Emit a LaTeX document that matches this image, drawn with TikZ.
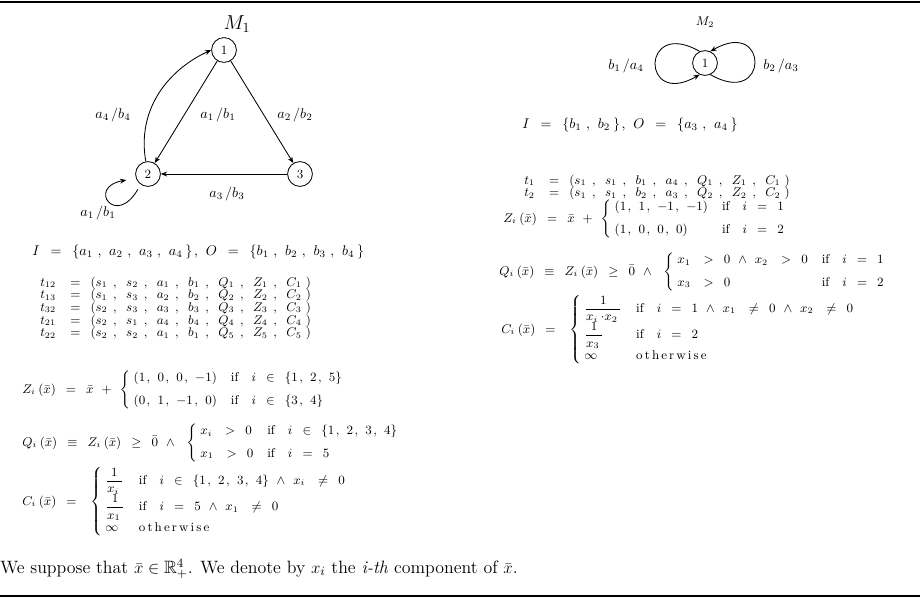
\documentclass[tikz,border=0pt]{standalone}
\usepackage{amsmath,amssymb}
\usetikzlibrary{arrows.meta,positioning}
\newcommand{\cma}{\mkern2mu,\mkern5mu}
\newcommand{\iif}{\text{if}\ \ \ }
\newcommand{\eqspacing}{\scriptspace=2.5pt\relax\thinmuskip=5mu\relax\medmuskip=11mu\relax\thickmuskip=14mu\relax}
\newcommand{\tupfont}{\small\eqspacing\thinmuskip=8mu\relax\scriptspace=3.5pt\relax}
\newcommand{\lblfont}{\normalsize\scriptspace=2pt\relax}
\tikzset{
  state/.style={draw,circle,semithick,minimum size=0.62cm,inner sep=0pt,font=\small},
  trans/.style={-{Stealth[length=4.5pt,width=3.5pt]},semithick},
  elabel/.style={font=\lblfont,inner sep=1pt},
  eqn/.style={anchor=west,inner sep=0pt,font=\small\eqspacing},
  eqtup/.style={eqn,anchor=north west,font=\tupfont},
  eqbig/.style={eqn,font=\normalsize\eqspacing}
}
\begin{document}
\begin{tikzpicture}[x=0.025cm,y=0.025cm]
  \useasboundingbox (0,0) rectangle (920,612);
  \draw[line width=1.2pt] (0,610) -- (920,610);
  \draw[line width=0.8pt] (0,16) -- (920,16);

  % machine M1
  \node[font=\Large] (m1) at (237,588) {$M_1$};
  \node[state] (s1) at (224,562) {1};
  \node[state] (s2) at (148,438) {2};
  \node[state] (s3) at (300,438) {3};
  \draw[trans] (s1) -- (s2);
  \draw[trans] (s1) -- (s3);
  \draw[trans] (s3) -- (s2);
  \draw[trans] (s2.100) to[out=100,in=205] (s1.west);
  \draw[trans,shorten <=4pt,shorten >=7pt] (s2.235) .. controls +(240:50) and +(190:50) .. (s2.200);
  \node[elabel] (l21) at (114,497) {$a_4/b_4$};
  \node[elabel] (l12) at (219,497) {$a_1/b_1$};
  \node[elabel] (l13) at (296,497) {$a_2/b_2$};
  \node[elabel] (l32) at (228,418) {$a_3/b_3$};
  \node[elabel] (l22) at (99,399) {$a_1/b_1$};

  % machine M1 equations
  \node[eqbig] (io1) at (32,360) {$I = \{a_1\cma a_2\cma a_3\cma a_4\}\cma O = \{b_1\cma b_2\cma b_3\cma b_4\}$};
  \node[eqtup] (tr1) at (40,337) {$\begin{array}{@{}l@{}}
    t_{12} = (s_1\cma s_2\cma a_1\cma b_1\cma Q_1\cma Z_1\cma C_1)\\[-2pt]
    t_{13} = (s_1\cma s_3\cma a_2\cma b_2\cma Q_2\cma Z_2\cma C_2)\\[-2pt]
    t_{32} = (s_2\cma s_3\cma a_3\cma b_3\cma Q_3\cma Z_3\cma C_3)\\[-2pt]
    t_{21} = (s_2\cma s_1\cma a_4\cma b_4\cma Q_4\cma Z_4\cma C_4)\\[-2pt]
    t_{22} = (s_2\cma s_2\cma a_1\cma b_1\cma Q_5\cma Z_5\cma C_5)
  \end{array}$};
  \node[eqn] (z1) at (22,222) {$Z_i(\bar{x}) = \bar{x} + \left\{\begin{array}{@{\,}ll}
    (1\cma 0\cma 0\cma -1) & \iif i \in \{1\cma 2\cma 5\}\\[5pt]
    (0\cma 1\cma -1\cma 0) & \iif i \in \{3\cma 4\}
  \end{array}\right.$};
  \node[eqn] (q1) at (22,169) {$Q_i(\bar{x}) \equiv Z_i(\bar{x}) \geq \bar{0} \mathbin{\wedge}\, \left\{\begin{array}{@{\,}ll}
    x_i > 0 & \iif i \in \{1\cma 2\cma 3\cma 4\}\\[5pt]
    x_1 > 0 & \iif i = 5
  \end{array}\right.$};
  \node[eqn] (c1) at (22,110) {$C_i(\bar{x}) = \,\left\{\begin{array}{@{\,}ll}
    \dfrac{1}{x_i} & \iif i \in \{1\cma 2\cma 3\cma 4\} \wedge x_i \neq 0\\
    \dfrac{1}{x_1} & \iif i = 5 \wedge x_1 \neq 0\\
    \infty & \text{o\,t\,h\,e\,r\,w\,i\,s\,e}
  \end{array}\right.$};

  % machine M2
  \node[font=\small] (m2) at (705,590) {$M_2$};
  \node[state] (u1) at (705,549) {1};
  \draw[trans] (u1.115) to[out=150,in=210,looseness=7.5] (u1.245);
  \draw[trans] (u1.295) to[out=-30,in=30,looseness=7.5] (u1.65);
  \node[elabel] (k1) at (627,546) {$b_1/a_4$};
  \node[elabel] (k2) at (782,546) {$b_2/a_3$};

  % machine M2 equations
  \node[eqbig] (io2) at (522,487) {$I = \{b_1\cma b_2\}\cma O = \{a_3\cma a_4\}$};
  \node[eqtup] (tr2) at (524,439) {$\begin{array}{@{}l@{}}
    t_1 = (s_1\cma s_1\cma b_1\cma a_4\cma Q_1\cma Z_1\cma C_1)\\[-2pt]
    t_2 = (s_1\cma s_1\cma b_2\cma a_3\cma Q_2\cma Z_2\cma C_2)
  \end{array}$};
  \node[eqn] (z2) at (503,393) {$Z_i(\bar{x}) = \bar{x} + \left\{\begin{array}{@{\,}ll}
    (1\cma 1\cma -1\cma -1) & \iif i = 1\\[5pt]
    (1\cma 0\cma 0\cma 0) & \iif i = 2
  \end{array}\right.$};
  \node[eqn] (q2) at (499,340) {$Q_i(\bar{x}) \equiv Z_i(\bar{x}) \geq \bar{0} \mathbin{\wedge}\, \left\{\begin{array}{@{\,}ll}
    x_1 > 0 \wedge x_2 > 0 & \iif i = 1\\[5pt]
    x_3 > 0 & \iif i = 2
  \end{array}\right.$};
  \node[eqn] (c2) at (501,282) {$C_i(\bar{x}) = \,\left\{\begin{array}{@{\,}ll}
    \dfrac{1}{x_i{\cdot}x_2} & \iif i = 1 \wedge x_1 \neq 0 \wedge x_2 \neq 0\\
    \dfrac{1}{x_3} & \iif i = 2\\
    \infty & \text{o\,t\,h\,e\,r\,w\,i\,s\,e}
  \end{array}\right.$};

  % remark
  \node[anchor=west,inner sep=0pt,font=\fontsize{12.7}{15}\selectfont] (note) at (0,43) {We suppose that $\bar{x} \in \mathbb{R}^4_+$. We denote by $x_i$ the \textit{i-th} component of $\bar{x}$.};
\end{tikzpicture}
\end{document}
